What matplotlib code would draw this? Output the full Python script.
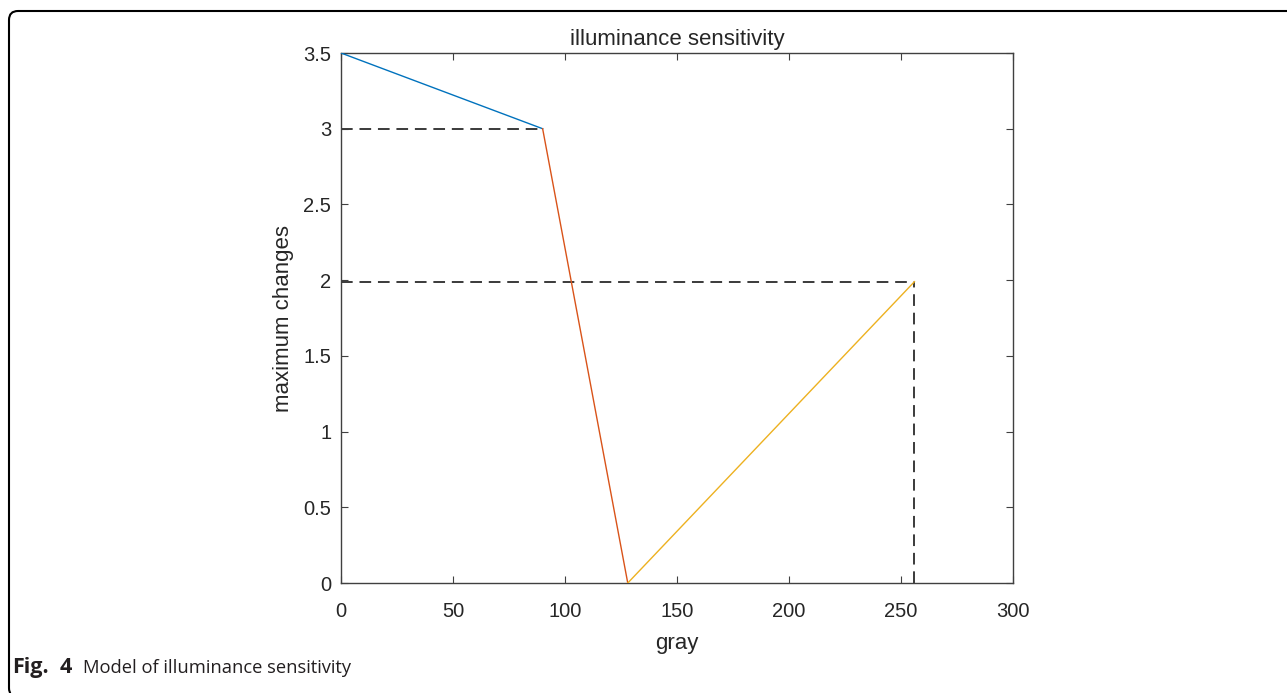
"""Model of illuminance sensitivity (Fig. 4)."""

import matplotlib

matplotlib.use("Agg")
import matplotlib.pyplot as plt
from matplotlib.patches import FancyBboxPatch
from matplotlib.transforms import IdentityTransform

# piecewise model segments
gray_dark = [0, 90]
sens_dark = [3.5, 3.0]
gray_mid = [90, 128]
sens_mid = [3.0, 0.0]
gray_bright = [128, 256]
sens_bright = [0.0, 1.99]

x_ticks = [0, 50, 100, 150, 200, 250, 300]
y_ticks = [0, 0.5, 1, 1.5, 2, 2.5, 3, 3.5]
y_tick_labels = ["0", "0.5", "1", "1.5", "2", "2.5", "3", "3.5"]

BLUE = "#0072BD"
RED = "#D95319"
YELLOW = "#EDB120"
AXIS_GREY = "#404040"
TEXT = "#262626"

plt.rcParams["font.family"] = ["Liberation Sans", "DejaVu Sans"]

fig = plt.figure(figsize=(12.87, 6.93), dpi=100)
ax = fig.add_axes([0.2650, 0.1587, 0.5221, 0.7648])

# dashed guide lines
guide = dict(color="#3a3a3a", lw=1.4, dashes=(6, 3.5), zorder=2)
ax.plot([gray_dark[0], gray_dark[1]], [sens_dark[1], sens_dark[1]], **guide)
ax.plot([gray_dark[0], gray_bright[1]], [sens_bright[1], sens_bright[1]], **guide)
ax.plot([gray_bright[1], gray_bright[1]], [0, sens_bright[1]], **guide)

ax.plot(gray_dark, sens_dark, color=BLUE, lw=1.0, zorder=3)
ax.plot(gray_mid, sens_mid, color=RED, lw=1.0, zorder=3)
ax.plot(gray_bright, sens_bright, color=YELLOW, lw=1.0, zorder=3)

ax.set_xlim(0, 300)
ax.set_ylim(0, 3.5)
ax.set_xticks(x_ticks)
ax.set_yticks(y_ticks)
ax.set_yticklabels(y_tick_labels)
ax.tick_params(direction="in", length=5, width=0.8, color=AXIS_GREY,
               top=True, right=True, labelsize=14.5, labelcolor=TEXT)
ax.tick_params(axis="x", pad=13.5)
ax.tick_params(axis="y", pad=7)
for sp in ax.spines.values():
    sp.set_color(AXIS_GREY)
    sp.set_linewidth(1.0)

ax.set_title("illuminance sensitivity", fontsize=16, color=TEXT, pad=6)
ax.set_xlabel("gray", fontsize=16, color=TEXT, labelpad=9)
ax.set_ylabel("maximum changes", fontsize=16, color=TEXT, labelpad=7)

# caption and frame
cap = dict(family="Open Sans", color="#231f20", va="baseline")
fig.text(12.5 / 1287, 20 / 693, "Fig.", fontsize=15.5, fontweight="bold", **cap)
fig.text(60 / 1287, 20 / 693, "4", fontsize=15.5, fontweight="bold", **cap)
fig.text(83 / 1287, 20 / 693, "Model of illuminance sensitivity", fontsize=13.25, **cap)

frame = FancyBboxPatch((9, -4), 1290, 686, boxstyle="round,pad=0,rounding_size=9",
                       transform=IdentityTransform(), fill=False,
                       edgecolor="black", lw=1.5)
fig.add_artist(frame)

fig.savefig("out.png", dpi=100)
